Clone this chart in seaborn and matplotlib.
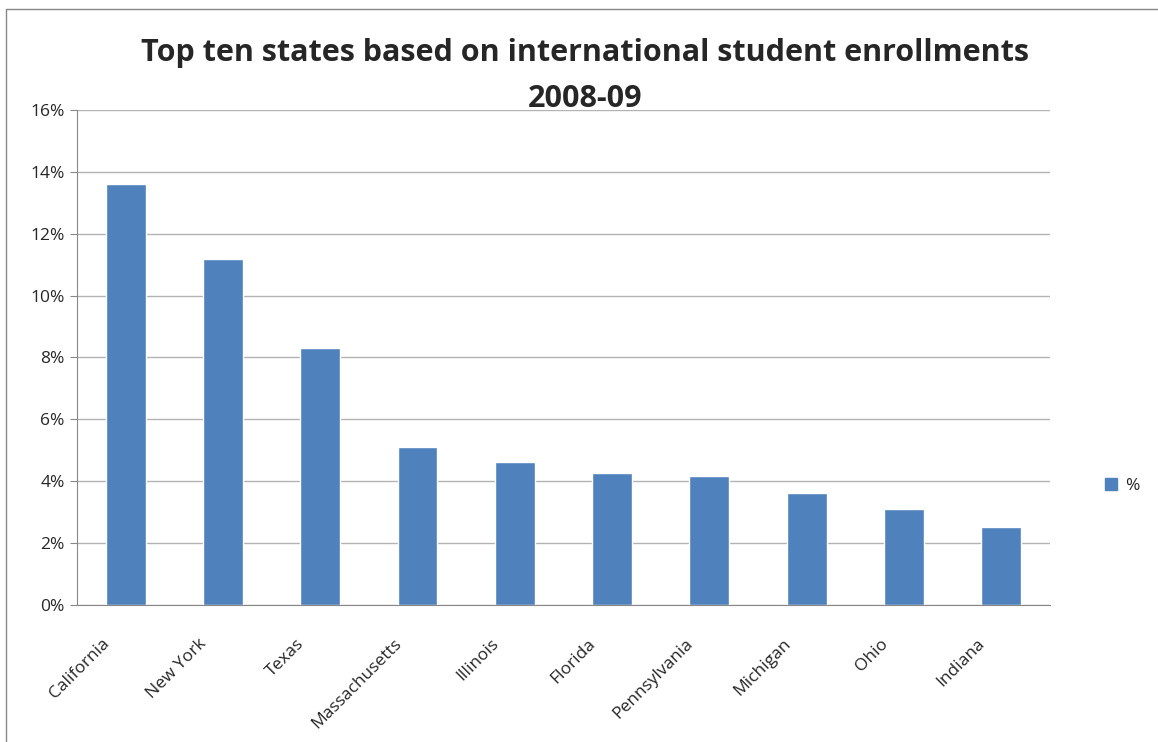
import numpy as np
import matplotlib
matplotlib.use("Agg")
import matplotlib.pyplot as plt
from matplotlib.lines import Line2D
from matplotlib.patches import Patch
import pandas as pd
import seaborn as sns

states = ["California", "New York", "Texas", "Massachusetts", "Illinois",
          "Florida", "Pennsylvania", "Michigan", "Ohio", "Indiana"]
share = [13.6, 11.18, 8.31, 5.1, 4.62, 4.27, 4.17, 3.62, 3.10, 2.52]
yticks = [0, 2, 4, 6, 8, 10, 12, 14, 16]
title = "Top ten states based on international student enrollments\n2008-09"

df = pd.DataFrame({"state": states, "pct": share})

sns.set_style("white")
plt.rcParams['font.family'] = ['Open Sans', 'DejaVu Sans']

fig = plt.figure(figsize=(11.58, 7.42), dpi=100)
ax = fig.add_axes([0.0665, 0.1846, 0.8402, 0.6672])
bar_color = "#4f81bd"
sns.barplot(data=df, x="state", y="pct", color=bar_color, width=0.41,
            saturation=1, ax=ax)

ax.set_ylim(0, 16)
ax.set_xlim(-0.5, len(states) - 0.5)
ax.set_yticks(yticks)
ax.set_yticklabels([f"{v}%" for v in yticks], fontsize=12.5)
ax.yaxis.grid(True, color="#b3b3b3", linewidth=1)
ax.set_axisbelow(True)
# labels sit a bit left of the bar centres, like the original
ax.set_xticks(np.arange(len(states)) - 0.25)
ax.set_xticklabels(states, rotation=45, ha="right", rotation_mode="anchor",
                   fontsize=12.5)
ax.set_xticks(np.arange(len(states) + 1) - 0.5, minor=True)
ax.tick_params(axis="x", which="major", length=0, pad=22)
ax.tick_params(axis="x", which="minor", length=5, color="#888888", direction="out")
ax.tick_params(axis="y", length=5, color="#888888", direction="out", left=True, pad=4)
ax.set_xlabel("")
ax.set_ylabel("")
for side in ["top", "right"]:
    ax.spines[side].set_visible(False)
for side in ["left", "bottom"]:
    ax.spines[side].set_color("#888888")

fig.text(0.505, 0.8976, title, ha="center", va="center", fontsize=22,
         fontweight="bold", linespacing=1.7)

ax.legend(handles=[Patch(color=bar_color, label="%")], loc="center left",
          bbox_to_anchor=(1.04, 0.24), frameon=False, fontsize=12.5,
          handlelength=0.7, handleheight=0.7, handletextpad=0.5)

fig.add_artist(Line2D([6 / 1158, 6 / 1158], [0, 1 - 9 / 742], color="#888888", lw=1))
fig.add_artist(Line2D([6 / 1158, 1], [1 - 9 / 742, 1 - 9 / 742], color="#888888", lw=1))

fig.savefig("out.png", dpi=100)
